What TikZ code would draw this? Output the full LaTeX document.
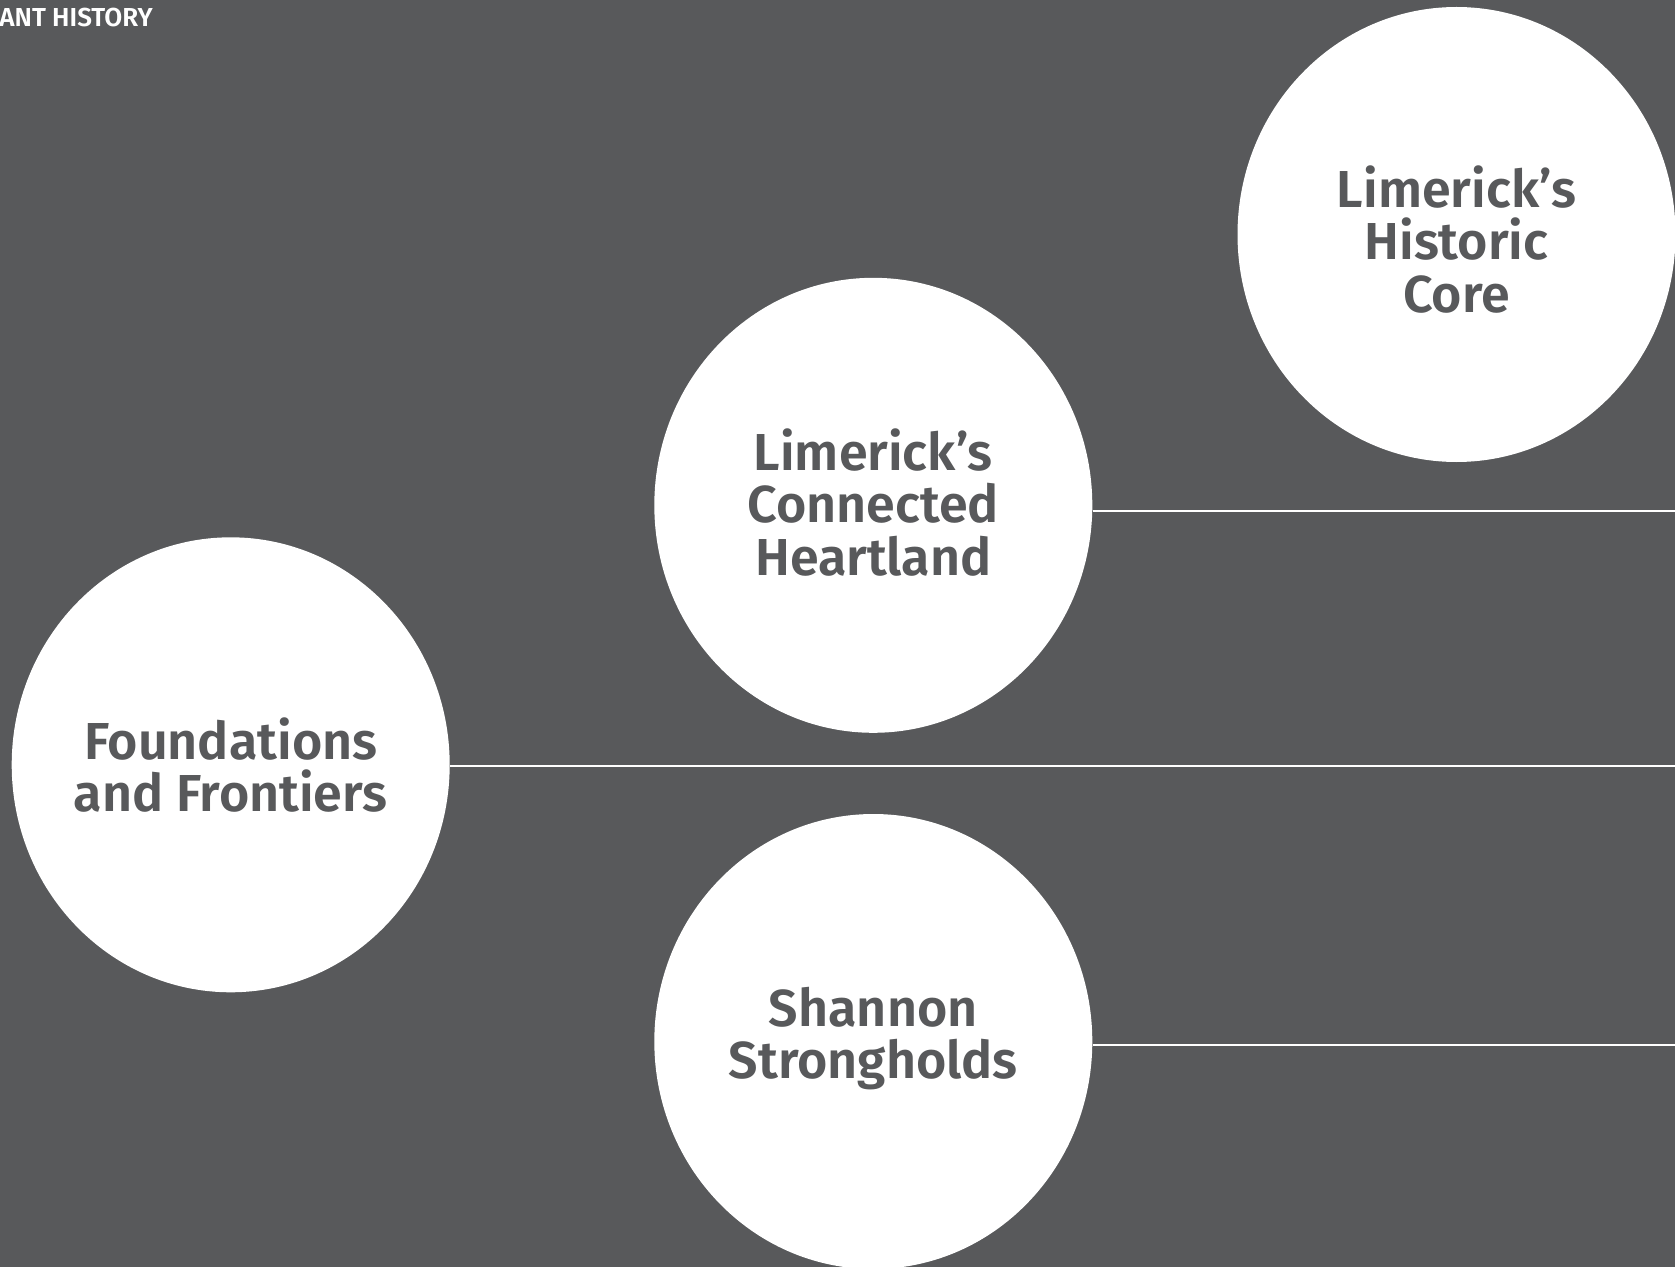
\documentclass[tikz,border=0pt]{standalone}
\usepackage{fontspec}
\setmainfont{Fira Sans}[BoldFont={Fira Sans SemiBold}]
\usetikzlibrary{shapes.geometric}
\definecolor{bggrey}{HTML}{58595B}
\tikzset{
  topic/.style={ellipse, fill=white, draw=none, minimum width=219pt, minimum height=227.5pt, inner sep=0pt},
  topictext/.style={inner sep=0pt, align=center, text=bggrey, font=\bfseries\fontsize{26}{26.2}\selectfont},
  rule/.style={draw=white, line width=1pt}
}
\begin{document}
\begin{tikzpicture}[x=0.5pt,y=-0.5pt]
\fill[bggrey] (0,0) rectangle (1675,1267);
\useasboundingbox (0,0) rectangle (1675,1267);
\node[anchor=base west, text=white, font=\bfseries\fontsize{13}{14}\selectfont, inner sep=0pt] (title) at (-1,27) {ANT HISTORY};
\node[topic] (core) at (1456.5,234.5) {};
\node[topic] (heart) at (873.3,505.3) {};
\node[topic] (found) at (230.7,764.8) {};
\node[topic] (shan) at (873.3,1041.5) {};
\node[topictext] (coretext) at ([yshift=-2.5pt]core.center) {Limerick’s\\Historic\\Core};
\node[topictext] (hearttext) at ([yshift=1.5pt]heart.center) {Limerick’s\\Connected\\Heartland};
\node[topictext] (foundtext) at (found.center) {Foundations\\and Frontiers};
\node[topictext] (shantext) at ([yshift=1.5pt]shan.center) {Shannon\\Strongholds};
\coordinate (r1) at (1675,510.6);
\coordinate (r2) at (1675,766);
\coordinate (r3) at (1675,1045);
\draw[rule] (heart.east |- r1) -- (r1);
\draw[rule] (found.east |- r2) -- (r2);
\draw[rule] (shan.east |- r3) -- (r3);
\end{tikzpicture}
\end{document}
